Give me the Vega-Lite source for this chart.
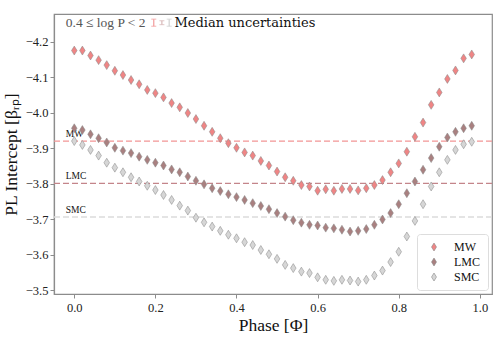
{
  "$schema": "https://vega.github.io/schema/vega-lite/v6.json",
  "width": 438,
  "height": 280,
  "autosize": "none",
  "padding": {"left": 54, "top": 14, "right": 6, "bottom": 43},
  "background": "white",
  "config": {
    "font": "Liberation Serif",
    "view": {"stroke": "#8c8c8c", "strokeWidth": 1.2},
    "axis": {"grid": false, "labelOverlap": false, "domainColor": "#8c8c8c", "tickColor": "#8c8c8c", "domainWidth": 1.2, "tickSize": 4, "labelFont": "Liberation Serif", "labelFontSize": 12.5, "labelColor": "#222", "titleFont": "Liberation Serif", "titleFontSize": 17.5, "titleFontWeight": "normal", "titleColor": "#111"},
    "legend": {"labelFont": "Liberation Serif", "labelFontSize": 12}
  },
  "datasets": {
    "pts": [
      {"phase":0.00,"galaxy":"MW","beta":-4.175},{"phase":0.02,"galaxy":"MW","beta":-4.175},{"phase":0.04,"galaxy":"MW","beta":-4.161},{"phase":0.06,"galaxy":"MW","beta":-4.148},{"phase":0.08,"galaxy":"MW","beta":-4.134},{"phase":0.10,"galaxy":"MW","beta":-4.118},{"phase":0.12,"galaxy":"MW","beta":-4.106},{"phase":0.14,"galaxy":"MW","beta":-4.092},{"phase":0.16,"galaxy":"MW","beta":-4.080},{"phase":0.18,"galaxy":"MW","beta":-4.064},{"phase":0.20,"galaxy":"MW","beta":-4.055},{"phase":0.22,"galaxy":"MW","beta":-4.043},{"phase":0.24,"galaxy":"MW","beta":-4.027},{"phase":0.26,"galaxy":"MW","beta":-4.015},{"phase":0.28,"galaxy":"MW","beta":-3.999},{"phase":0.30,"galaxy":"MW","beta":-3.982},{"phase":0.32,"galaxy":"MW","beta":-3.963},{"phase":0.34,"galaxy":"MW","beta":-3.946},{"phase":0.36,"galaxy":"MW","beta":-3.928},{"phase":0.38,"galaxy":"MW","beta":-3.914},{"phase":0.40,"galaxy":"MW","beta":-3.901},{"phase":0.42,"galaxy":"MW","beta":-3.888},{"phase":0.44,"galaxy":"MW","beta":-3.879},{"phase":0.46,"galaxy":"MW","beta":-3.864},{"phase":0.48,"galaxy":"MW","beta":-3.851},{"phase":0.50,"galaxy":"MW","beta":-3.834},{"phase":0.52,"galaxy":"MW","beta":-3.818},{"phase":0.54,"galaxy":"MW","beta":-3.808},{"phase":0.56,"galaxy":"MW","beta":-3.796},{"phase":0.58,"galaxy":"MW","beta":-3.792},{"phase":0.60,"galaxy":"MW","beta":-3.780},{"phase":0.62,"galaxy":"MW","beta":-3.784},{"phase":0.64,"galaxy":"MW","beta":-3.780},{"phase":0.66,"galaxy":"MW","beta":-3.785},{"phase":0.68,"galaxy":"MW","beta":-3.785},{"phase":0.70,"galaxy":"MW","beta":-3.781},{"phase":0.72,"galaxy":"MW","beta":-3.787},{"phase":0.74,"galaxy":"MW","beta":-3.796},{"phase":0.76,"galaxy":"MW","beta":-3.810},{"phase":0.78,"galaxy":"MW","beta":-3.832},{"phase":0.80,"galaxy":"MW","beta":-3.857},{"phase":0.82,"galaxy":"MW","beta":-3.890},{"phase":0.84,"galaxy":"MW","beta":-3.932},{"phase":0.86,"galaxy":"MW","beta":-3.972},{"phase":0.88,"galaxy":"MW","beta":-4.022},{"phase":0.90,"galaxy":"MW","beta":-4.057},{"phase":0.92,"galaxy":"MW","beta":-4.095},{"phase":0.94,"galaxy":"MW","beta":-4.119},{"phase":0.96,"galaxy":"MW","beta":-4.153},{"phase":0.98,"galaxy":"MW","beta":-4.164},
      {"phase":0.00,"galaxy":"LMC","beta":-3.956},{"phase":0.02,"galaxy":"LMC","beta":-3.951},{"phase":0.04,"galaxy":"LMC","beta":-3.939},{"phase":0.06,"galaxy":"LMC","beta":-3.928},{"phase":0.08,"galaxy":"LMC","beta":-3.916},{"phase":0.10,"galaxy":"LMC","beta":-3.901},{"phase":0.12,"galaxy":"LMC","beta":-3.893},{"phase":0.14,"galaxy":"LMC","beta":-3.886},{"phase":0.16,"galaxy":"LMC","beta":-3.876},{"phase":0.18,"galaxy":"LMC","beta":-3.867},{"phase":0.20,"galaxy":"LMC","beta":-3.859},{"phase":0.22,"galaxy":"LMC","beta":-3.851},{"phase":0.24,"galaxy":"LMC","beta":-3.840},{"phase":0.26,"galaxy":"LMC","beta":-3.832},{"phase":0.28,"galaxy":"LMC","beta":-3.820},{"phase":0.30,"galaxy":"LMC","beta":-3.808},{"phase":0.32,"galaxy":"LMC","beta":-3.798},{"phase":0.34,"galaxy":"LMC","beta":-3.787},{"phase":0.36,"galaxy":"LMC","beta":-3.779},{"phase":0.38,"galaxy":"LMC","beta":-3.770},{"phase":0.40,"galaxy":"LMC","beta":-3.762},{"phase":0.42,"galaxy":"LMC","beta":-3.754},{"phase":0.44,"galaxy":"LMC","beta":-3.745},{"phase":0.46,"galaxy":"LMC","beta":-3.737},{"phase":0.48,"galaxy":"LMC","beta":-3.728},{"phase":0.50,"galaxy":"LMC","beta":-3.717},{"phase":0.52,"galaxy":"LMC","beta":-3.707},{"phase":0.54,"galaxy":"LMC","beta":-3.697},{"phase":0.56,"galaxy":"LMC","beta":-3.690},{"phase":0.58,"galaxy":"LMC","beta":-3.684},{"phase":0.60,"galaxy":"LMC","beta":-3.682},{"phase":0.62,"galaxy":"LMC","beta":-3.676},{"phase":0.64,"galaxy":"LMC","beta":-3.674},{"phase":0.66,"galaxy":"LMC","beta":-3.670},{"phase":0.68,"galaxy":"LMC","beta":-3.665},{"phase":0.70,"galaxy":"LMC","beta":-3.667},{"phase":0.72,"galaxy":"LMC","beta":-3.672},{"phase":0.74,"galaxy":"LMC","beta":-3.684},{"phase":0.76,"galaxy":"LMC","beta":-3.699},{"phase":0.78,"galaxy":"LMC","beta":-3.717},{"phase":0.80,"galaxy":"LMC","beta":-3.742},{"phase":0.82,"galaxy":"LMC","beta":-3.773},{"phase":0.84,"galaxy":"LMC","beta":-3.806},{"phase":0.86,"galaxy":"LMC","beta":-3.839},{"phase":0.88,"galaxy":"LMC","beta":-3.872},{"phase":0.90,"galaxy":"LMC","beta":-3.904},{"phase":0.92,"galaxy":"LMC","beta":-3.930},{"phase":0.94,"galaxy":"LMC","beta":-3.946},{"phase":0.96,"galaxy":"LMC","beta":-3.956},{"phase":0.98,"galaxy":"LMC","beta":-3.963},
      {"phase":0.00,"galaxy":"SMC","beta":-3.920},{"phase":0.02,"galaxy":"SMC","beta":-3.909},{"phase":0.04,"galaxy":"SMC","beta":-3.895},{"phase":0.06,"galaxy":"SMC","beta":-3.879},{"phase":0.08,"galaxy":"SMC","beta":-3.859},{"phase":0.10,"galaxy":"SMC","beta":-3.845},{"phase":0.12,"galaxy":"SMC","beta":-3.832},{"phase":0.14,"galaxy":"SMC","beta":-3.818},{"phase":0.16,"galaxy":"SMC","beta":-3.806},{"phase":0.18,"galaxy":"SMC","beta":-3.794},{"phase":0.20,"galaxy":"SMC","beta":-3.782},{"phase":0.22,"galaxy":"SMC","beta":-3.768},{"phase":0.24,"galaxy":"SMC","beta":-3.754},{"phase":0.26,"galaxy":"SMC","beta":-3.738},{"phase":0.28,"galaxy":"SMC","beta":-3.724},{"phase":0.30,"galaxy":"SMC","beta":-3.704},{"phase":0.32,"galaxy":"SMC","beta":-3.691},{"phase":0.34,"galaxy":"SMC","beta":-3.679},{"phase":0.36,"galaxy":"SMC","beta":-3.667},{"phase":0.38,"galaxy":"SMC","beta":-3.656},{"phase":0.40,"galaxy":"SMC","beta":-3.646},{"phase":0.42,"galaxy":"SMC","beta":-3.635},{"phase":0.44,"galaxy":"SMC","beta":-3.627},{"phase":0.46,"galaxy":"SMC","beta":-3.613},{"phase":0.48,"galaxy":"SMC","beta":-3.601},{"phase":0.50,"galaxy":"SMC","beta":-3.588},{"phase":0.52,"galaxy":"SMC","beta":-3.571},{"phase":0.54,"galaxy":"SMC","beta":-3.562},{"phase":0.56,"galaxy":"SMC","beta":-3.552},{"phase":0.58,"galaxy":"SMC","beta":-3.548},{"phase":0.60,"galaxy":"SMC","beta":-3.536},{"phase":0.62,"galaxy":"SMC","beta":-3.529},{"phase":0.64,"galaxy":"SMC","beta":-3.526},{"phase":0.66,"galaxy":"SMC","beta":-3.529},{"phase":0.68,"galaxy":"SMC","beta":-3.527},{"phase":0.70,"galaxy":"SMC","beta":-3.524},{"phase":0.72,"galaxy":"SMC","beta":-3.529},{"phase":0.74,"galaxy":"SMC","beta":-3.541},{"phase":0.76,"galaxy":"SMC","beta":-3.555},{"phase":0.78,"galaxy":"SMC","beta":-3.579},{"phase":0.80,"galaxy":"SMC","beta":-3.608},{"phase":0.82,"galaxy":"SMC","beta":-3.651},{"phase":0.84,"galaxy":"SMC","beta":-3.695},{"phase":0.86,"galaxy":"SMC","beta":-3.742},{"phase":0.88,"galaxy":"SMC","beta":-3.792},{"phase":0.90,"galaxy":"SMC","beta":-3.832},{"phase":0.92,"galaxy":"SMC","beta":-3.867},{"phase":0.94,"galaxy":"SMC","beta":-3.895},{"phase":0.96,"galaxy":"SMC","beta":-3.911},{"phase":0.98,"galaxy":"SMC","beta":-3.918}
    ],
    "refs": [
      {"galaxy":"MW","beta":-3.920,"phase":-0.021},
      {"galaxy":"LMC","beta":-3.801,"phase":-0.021},
      {"galaxy":"SMC","beta":-3.706,"phase":-0.021}
    ],
    "errs": [
      {"galaxy":"MW","phase":0.196,"lo":-4.2635,"hi":-4.2435},
      {"galaxy":"LMC","phase":0.216,"lo":-4.2590,"hi":-4.2480},
      {"galaxy":"SMC","phase":0.234,"lo":-4.2635,"hi":-4.2435}
    ],
    "rangeNote": [
      {"phase":-0.021,"beta":-4.2535,"label":"0.4 ≤ log P < 2"}
    ],
    "medianNote": [
      {"phase":0.247,"beta":-4.2535,"label":"Median uncertainties"}
    ]
  },
  "encoding": {
    "x": {"field": "phase", "type": "quantitative",
      "scale": {"domain": [-0.05, 1.03], "nice": false, "zero": false},
      "axis": {"values": [0, 0.2, 0.4, 0.6, 0.8, 1.0], "format": ".1f", "title": "Phase [Φ]", "labelPadding": 3, "titlePadding": 3}},
    "y": {"field": "beta", "type": "quantitative",
      "scale": {"domain": [-4.278, -3.489], "nice": false, "zero": false, "reverse": true},
      "axis": {"values": [-4.2, -4.1, -4.0, -3.9, -3.8, -3.7, -3.6, -3.5], "format": ".1f", "title": "PL Intercept [βᵣₚ]", "labelPadding": 2, "titlePadding": 5}}
  },
  "layer": [
    {
      "data": {"name": "refs"},
      "mark": {"type": "rule", "strokeDash": [6, 3], "strokeWidth": 1.3},
      "encoding": {
        "x": null,
        "stroke": {"field": "galaxy", "type": "nominal", "legend": null,
          "scale": {"domain": ["MW", "LMC", "SMC"], "range": ["#f29595", "#c4858a", "#dcdcdc"]}}
      }
    },
    {
      "data": {"name": "refs"},
      "mark": {"type": "text", "align": "left", "baseline": "alphabetic", "dy": -4, "fontSize": 9.5, "color": "#111"},
      "encoding": {
        "text": {"field": "galaxy", "type": "nominal"}
      }
    },
    {
      "data": {"name": "errs"},
      "mark": {"type": "rule", "strokeWidth": 1.2},
      "encoding": {
        "y": {"field": "lo", "type": "quantitative", "axis": {"values": [-4.2, -4.1, -4.0, -3.9, -3.8, -3.7, -3.6, -3.5], "format": ".1f", "title": "PL Intercept [βᵣₚ]", "labelPadding": 2, "titlePadding": 5}},
        "y2": {"field": "hi"},
        "stroke": {"field": "galaxy", "type": "nominal", "legend": null,
          "scale": {"domain": ["MW", "LMC", "SMC"], "range": ["#f29a9a", "#d8b8b8", "#d0d0d0"]}}
      }
    },
    {
      "data": {"name": "errs"},
      "mark": {"type": "tick", "orient": "horizontal", "size": 5, "thickness": 1.1},
      "encoding": {
        "y": {"field": "lo", "type": "quantitative", "axis": {"values": [-4.2, -4.1, -4.0, -3.9, -3.8, -3.7, -3.6, -3.5], "format": ".1f", "title": "PL Intercept [βᵣₚ]", "labelPadding": 2, "titlePadding": 5}},
        "color": {"field": "galaxy", "type": "nominal", "legend": null,
          "scale": {"domain": ["MW", "LMC", "SMC"], "range": ["#f29a9a", "#d8b8b8", "#d0d0d0"]}}
      }
    },
    {
      "data": {"name": "errs"},
      "mark": {"type": "tick", "orient": "horizontal", "size": 5, "thickness": 1.1},
      "encoding": {
        "y": {"field": "hi", "type": "quantitative", "axis": {"values": [-4.2, -4.1, -4.0, -3.9, -3.8, -3.7, -3.6, -3.5], "format": ".1f", "title": "PL Intercept [βᵣₚ]", "labelPadding": 2, "titlePadding": 5}},
        "color": {"field": "galaxy", "type": "nominal", "legend": null,
          "scale": {"domain": ["MW", "LMC", "SMC"], "range": ["#f29a9a", "#d8b8b8", "#d0d0d0"]}}
      }
    },
    {
      "data": {"name": "rangeNote"},
      "mark": {"type": "text", "align": "left", "baseline": "middle", "fontSize": 13.5, "font": "Liberation Serif", "color": "#555555"},
      "encoding": {
        "text": {"field": "label", "type": "nominal"}
      }
    },
    {
      "data": {"name": "medianNote"},
      "mark": {"type": "text", "align": "left", "baseline": "middle", "fontSize": 13, "font": "DejaVu Serif", "color": "#111111"},
      "encoding": {
        "text": {"field": "label", "type": "nominal"}
      }
    },
    {
      "data": {"name": "pts"},
      "mark": {"type": "point", "filled": true, "shape": "M0,-1L0.62,0L0,1L-0.62,0Z", "size": 80, "stroke": "#8a8a8a", "strokeWidth": 0.6, "opacity": 1, "fillOpacity": 1, "strokeOpacity": 0.9},
      "encoding": {
        "fill": {"field": "galaxy", "type": "nominal",
          "scale": {"domain": ["MW", "LMC", "SMC"], "range": ["#ef8585", "#a98080", "#d6d6d6"]},
          "legend": {"title": null, "orient": "bottom-right", "offset": 4, "padding": 7, "rowPadding": 3,
            "fillColor": "white", "strokeColor": "#dddddd", "cornerRadius": 3,
            "symbolType": "M0,-1L0.62,0L0,1L-0.62,0Z", "symbolSize": 64, "symbolStrokeColor": "#8a8a8a", "symbolStrokeWidth": 0.6, "symbolOffset": 4, "labelOffset": 14, "labelFontSize": 12, "labelColor": "#111"}}
      }
    }
  ],
  "resolve": {"scale": {"color": "independent", "fill": "independent", "stroke": "independent"}}
}
